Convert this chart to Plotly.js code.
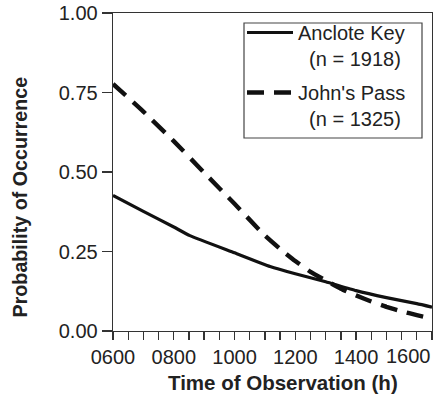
<!DOCTYPE html>
<html>
<head>
<meta charset="utf-8">
<script src="https://cdn.plot.ly/plotly-3.0.1.min.js"></script>
<style>
html,body{margin:0;padding:0;background:#fff;}
#chart{width:433px;height:401px;}
</style>
</head>
<body>
<div id="chart"></div>
<script>
// Time of observation (hours, hhmm as number)
const ancloteTimes = [600, 700, 800, 853, 1000, 1117, 1200, 1300, 1400, 1500, 1600, 1650];
const ancloteProb  = [0.426, 0.376, 0.327, 0.300, 0.246, 0.203, 0.180, 0.155, 0.127, 0.105, 0.086, 0.075];
const johnsTimes = [600, 700, 800, 900, 1000, 1100, 1150, 1200, 1250, 1300, 1350, 1400, 1450, 1500, 1550, 1600, 1650];
const johnsProb  = [0.777, 0.690, 0.597, 0.498, 0.400, 0.300, 0.258, 0.220, 0.186, 0.159, 0.133, 0.112, 0.093, 0.076, 0.062, 0.050, 0.039];
const xTickVals = [600, 800, 1000, 1200, 1400, 1600];
const xTickText = ["0600", "0800", "1000", "1200", "1400", "1600"];
const yTickVals = [0, 0.25, 0.5, 0.75, 1.0];
const yTickText = ["0.00", "0.25", "0.50", "0.75", "1.00"];
const seriesNames = ["Anclote Key<br>&nbsp;&nbsp;(n = 1918)", "John's Pass<br>&nbsp;&nbsp;(n = 1325)"];
const xTitle = "Time of Observation (h)";
const yTitle = "Probability of Occurrence";

const font = "Liberation Sans, Arial, sans-serif";
const lastIdx = xTickVals.length - 1;
const traces = [
  {x: ancloteTimes, y: ancloteProb, mode: 'lines', name: seriesNames[0], legendgroup: 'a',
   line: {color: '#111', width: 3.2, shape: 'spline', smoothing: 0.4}},
  {x: johnsTimes, y: johnsProb, mode: 'lines', name: seriesNames[1], legendgroup: 'b',
   line: {color: '#111', width: 4.4, dash: '17px,10px', shape: 'spline', smoothing: 0.4}}
];
const layout = {
  width: 433, height: 401,
  margin: {l: 113, r: 1, t: 13, b: 70},
  paper_bgcolor: '#fff', plot_bgcolor: '#fff',
  font: {family: font, color: '#222', size: 20},
  showlegend: true,
  legend: {x: 0.4044, y: 1.0, xanchor: 'left', yanchor: 'top',
           bgcolor: 'rgba(0,0,0,0)', borderwidth: 0,
           font: {family: font, size: 20, color: '#222'},
           valign: 'top', tracegroupgap: 5, itemwidth: 46},
  shapes: [
    {type: 'rect', xref: 'paper', yref: 'paper', layer: 'below',
     x0: (244 - 113) / 319, x1: (422 - 113) / 319, y0: (331 - 138) / 318, y1: (331 - 23) / 318,
     line: {color: '#444', width: 1.2}, fillcolor: '#fff'}
  ],
  xaxis: {range: [600, 1650], showline: true, linecolor: '#333', linewidth: 1.3, mirror: true,
          showgrid: false, zeroline: false,
          tickmode: 'array', tickvals: xTickVals,
          ticktext: xTickText.map((t, i) => i === lastIdx ? '' : t),
          ticks: 'outside', ticklen: 8, tickwidth: 1.3, tickcolor: '#333',
          minor: {dtick: 50, tick0: 600, ticks: 'outside', ticklen: 8, tickwidth: 1.3, tickcolor: '#333', showgrid: false},
          tickfont: {family: font, size: 20, color: '#222'}},
  yaxis: {range: [0, 1], showline: true, linecolor: '#333', linewidth: 1.3, mirror: true,
          showgrid: false, zeroline: false,
          tickmode: 'array', tickvals: yTickVals, ticktext: yTickText,
          ticks: 'outside', ticklen: 10, tickwidth: 1.3, tickcolor: '#333',
          tickfont: {family: font, size: 20, color: '#222'}},
  annotations: [
    {text: xTickText[lastIdx], xref: 'paper', yref: 'paper', x: 1, y: -(356 - 331) / 318,
     xanchor: 'right', yanchor: 'middle', showarrow: false, borderpad: 0,
     font: {family: font, size: 20, color: '#222'}},
    {text: '<b>' + xTitle + '</b>', xref: 'paper', yref: 'paper', x: 0.533, y: -(382 - 331) / 318,
     xanchor: 'center', yanchor: 'middle', showarrow: false, borderpad: 0,
     font: {family: font, size: 20.5, color: '#222'}},
    {text: '<b>' + yTitle + '</b>', xref: 'paper', yref: 'paper', x: -0.2915, y: 0.42,
     xanchor: 'center', yanchor: 'middle', showarrow: false, textangle: -90,
     font: {family: font, size: 19.7, color: '#222'}}
  ]
};
Plotly.newPlot('chart', traces, layout, {displayModeBar: false, staticPlot: true});
</script>
</body>
</html>
